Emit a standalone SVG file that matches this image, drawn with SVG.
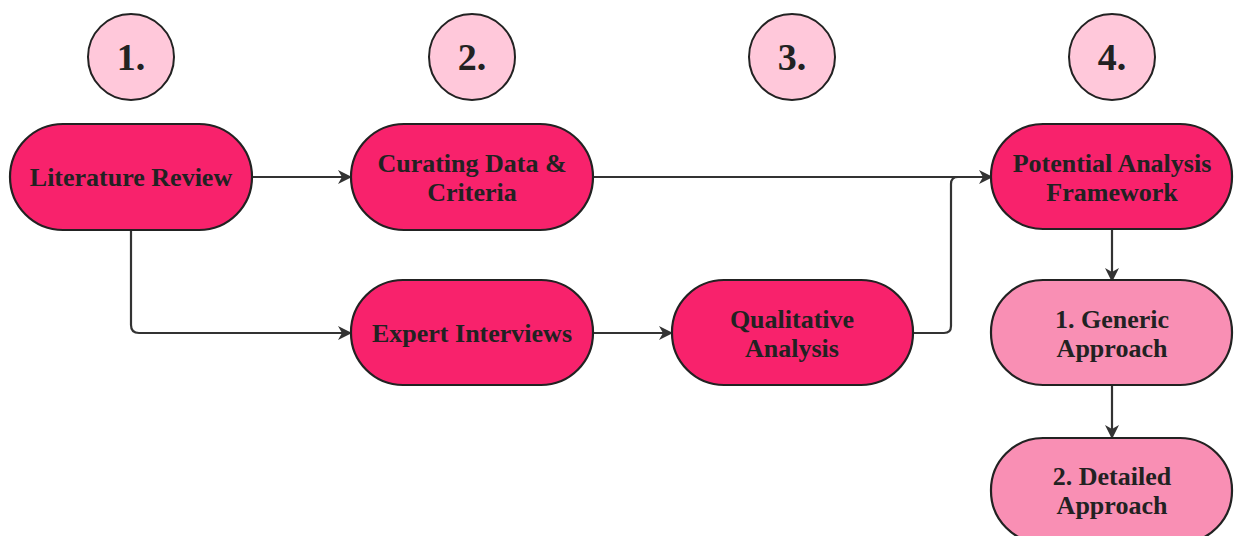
<svg xmlns="http://www.w3.org/2000/svg" width="1234" height="536" viewBox="0 0 1234 536">
<defs>
<style>
.main{fill:#F8226C;stroke:#222;stroke-width:2.2}
.light{fill:#F98FB4;stroke:#222;stroke-width:2.2}
.step{fill:#FFC8DA;stroke:#222;stroke-width:2}
.lbl{font-weight:bold;font-size:26px;fill:#222;text-anchor:middle}
.num{font-weight:bold;font-size:38px;fill:#222;text-anchor:middle}
.conn{fill:none;stroke:#333;stroke-width:2.2}
</style>
<marker id="arr" viewBox="0 0 14 14" refX="13" refY="7" markerWidth="14" markerHeight="14" markerUnits="userSpaceOnUse" orient="auto">
<path d="M0,0 L14,7 L0,14 L4,7 Z" fill="#333"/>
</marker>
</defs>
<rect width="1234" height="536" fill="#fff"/>
<g id="steps" font-family="Liberation Serif, Times New Roman, serif">
<g id="step1"><ellipse class="step" cx="131" cy="57" rx="43" ry="43"/><text class="num" x="131" y="70">1.</text></g>
<g id="step2"><ellipse class="step" cx="472" cy="57" rx="43" ry="43"/><text class="num" x="472" y="70">2.</text></g>
<g id="step3"><ellipse class="step" cx="792" cy="57" rx="43" ry="43"/><text class="num" x="792" y="70">3.</text></g>
<g id="step4"><ellipse class="step" cx="1112" cy="57" rx="43" ry="43"/><text class="num" x="1112" y="70">4.</text></g>
</g>
<g id="connectors">
<path class="conn" d="M252,177 L351,177" marker-end="url(#arr)"/>
<path class="conn" d="M131,230 L131,325 Q131,333 139,333 L351,333" marker-end="url(#arr)"/>
<path class="conn" d="M593,177 L992,177" marker-end="url(#arr)"/>
<path class="conn" d="M593,333 L672,333" marker-end="url(#arr)"/>
<path class="conn" d="M913,333 L944,333 Q951,333 951,326 L951,184 Q951,177 958,177 L992,177"/>
<path class="conn" d="M1112,229 L1112,281" marker-end="url(#arr)"/>
<path class="conn" d="M1112,385 L1112,438" marker-end="url(#arr)"/>
</g>
<g id="nodes" font-family="Liberation Serif, Times New Roman, serif">
<g id="literature-review"><rect class="main" x="10" y="124" width="242" height="106" rx="53"/><text class="lbl" x="131" y="186">Literature Review</text></g>
<g id="curating-data"><rect class="main" x="351" y="124" width="242" height="106" rx="53"/><text class="lbl" x="472" y="172">Curating Data &amp;</text><text class="lbl" x="472" y="201">Criteria</text></g>
<g id="potential-analysis"><rect class="main" x="991" y="124" width="241" height="105" rx="52"/><text class="lbl" x="1112" y="172">Potential Analysis</text><text class="lbl" x="1112" y="201">Framework</text></g>
<g id="expert-interviews"><rect class="main" x="351" y="280" width="242" height="105" rx="52"/><text class="lbl" x="472" y="342">Expert Interviews</text></g>
<g id="qualitative-analysis"><rect class="main" x="672" y="280" width="241" height="105" rx="52"/><text class="lbl" x="792" y="328">Qualitative</text><text class="lbl" x="792" y="357">Analysis</text></g>
<g id="generic-approach"><rect class="light" x="991" y="280" width="241" height="105" rx="52"/><text class="lbl" x="1112" y="328">1. Generic</text><text class="lbl" x="1112" y="357">Approach</text></g>
<g id="detailed-approach"><rect class="light" x="991" y="438" width="241" height="105" rx="52"/><text class="lbl" x="1112" y="485">2. Detailed</text><text class="lbl" x="1112" y="514">Approach</text></g>
</g>
</svg>
